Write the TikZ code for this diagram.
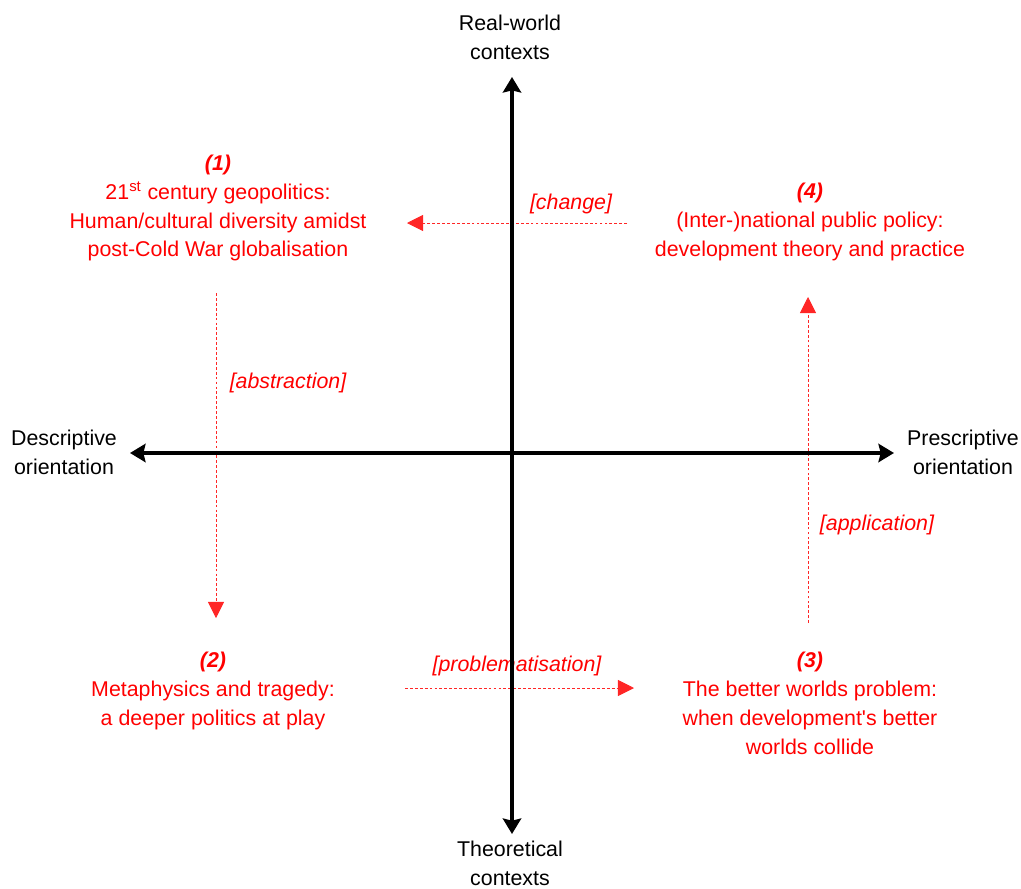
\documentclass[tikz,border=0pt]{standalone}
\usepackage{fontspec}
\setmainfont{Liberation Sans}
\usepackage{tikz}
\usetikzlibrary{arrows.meta, positioning}
\tikzset{
    axislabel/.style={align=center, text=black, inner sep=0pt, font=\fontsize{15.2pt}{20.6pt}\selectfont},
    quadtext/.style={align=center, text=red, inner sep=0pt, font=\fontsize{15.2pt}{20.6pt}\selectfont},
    flowlabel/.style={text=red, inner sep=0pt, font=\fontsize{15.2pt}{20.6pt}\selectfont\itshape},
    axis/.style={line width=2.3pt, black, {Stealth[length=11pt,width=13pt,inset=1.5pt]}-{Stealth[length=11pt,width=13pt,inset=1.5pt]}},
    flow/.style={red!85, line width=0.5pt, dash pattern=on 2pt off 1.5pt, -{Triangle[length=11.5pt,width=11.5pt]}}
}

\begin{document}
\begin{tikzpicture}[x=0.025cm, y=-0.025cm]
    \useasboundingbox (0,0) rectangle (1021,889);

    % axis labels
    \node (realw) [axislabel] at (510,37) {Real-world\\contexts};
    \node (theo) [axislabel] at (510,863) {Theoretical\\contexts};
    \node (descr) [axislabel] at (64,452) {Descriptive\\orientation};
    \node (presc) [axislabel] at (963,452) {Prescriptive\\orientation};

    % quadrants
    \node (q1) [quadtext] at (218,208) {\textbf{\textit{(1)}}\\21\textsuperscript{st} century geopolitics:\\Human/cultural diversity amidst\\post-Cold War globalisation};
    \node (q4) [quadtext] at (810,222) {\textbf{\textit{(4)}}\\(Inter-)national public policy:\\development theory and practice};
    \node (q2) [quadtext] at (213,691) {\textbf{\textit{(2)}}\\Metaphysics and tragedy:\\a deeper politics at play};
    \node (q3) [quadtext] at (810,703) {\textbf{\textit{(3)}}\\The better worlds problem:\\when development\textquotesingle s better\\worlds collide};

    % flow labels
    \node (chg) [flowlabel] at (571,204) {[change]};
    \node (abs) [flowlabel] at (288,383) {[abstraction]};
    \node (prb) [flowlabel] at (517,666) {[problematisation]};
    \node (app) [flowlabel] at (877,525) {[application]};

    % flow ends
    \coordinate (chgA) at (627,223);
    \coordinate (chgB) at (407,223);
    \coordinate (absA) at (216,293);
    \coordinate (absB) at (216,618);
    \coordinate (prbA) at (405,688);
    \coordinate (prbB) at (634,688);
    \coordinate (appA) at (808,623);
    \coordinate (appB) at (808,297);

    \draw [flow] (chgA) -- (chgB);
    \draw [flow] (absA) -- (absB);
    \draw [flow] (prbA) -- (prbB);
    \draw [flow] (appA) -- (appB);

    % axes
    \coordinate (top) at (512,77);
    \coordinate (bot) at (512,834);
    \coordinate (lft) at (130,453);
    \coordinate (rgt) at (894,453);
    \draw [axis] (bot) -- (top);
    \draw [axis] (lft) -- (rgt);
\end{tikzpicture}
\end{document}
